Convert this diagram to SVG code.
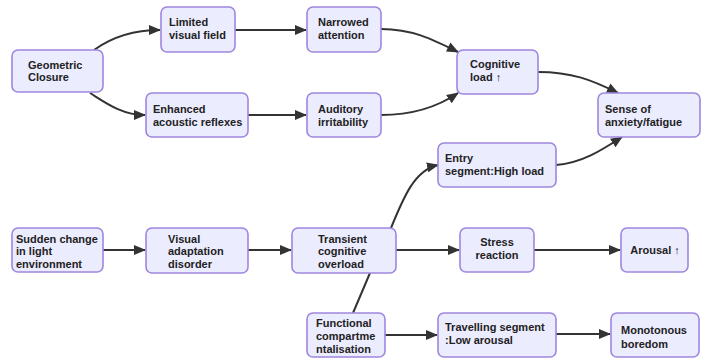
<svg xmlns="http://www.w3.org/2000/svg" width="703" height="360" viewBox="0 0 703 360">
<style>
.n rect{fill:#ECECFF;stroke:#9f86e0;stroke-width:1.6}
.n text{font-family:"Liberation Sans",Arial,sans-serif;font-size:11px;font-weight:bold;fill:#222}
.c path{fill:none;stroke:#333;stroke-width:2}
</style>
<defs>
<marker id="ah" markerUnits="userSpaceOnUse" markerWidth="12" markerHeight="12" viewBox="0 0 12 12" refX="11" refY="6" orient="auto">
<path d="M0,1 L12,6 L0,11 Z" fill="#333"/>
</marker>
</defs>
<rect width="703" height="360" fill="#fff"/>
<g class="c">
<path d="M94,50 C112,37 132,30 160,30" marker-end="url(#ah)"/>
<path d="M90,93 C106,103 122,115 145,115" marker-end="url(#ah)"/>
<path d="M235,30 L306,30" marker-end="url(#ah)"/>
<path d="M248,115 L306,115" marker-end="url(#ah)"/>
<path d="M381,29 C412,29 432,39 458,52" marker-end="url(#ah)"/>
<path d="M381,115 C412,115 436,108 458,93" marker-end="url(#ah)"/>
<path d="M538,72 C572,72 592,80 618,93" marker-end="url(#ah)"/>
<path d="M556,165 C582,163 602,150 622,137" marker-end="url(#ah)"/>
<path d="M391,228 C404,196 415,170 438,165" marker-end="url(#ah)"/>
<path d="M103,250 L145,250" marker-end="url(#ah)"/>
<path d="M248,250 L291,250" marker-end="url(#ah)"/>
<path d="M396,250 L459,250" marker-end="url(#ah)"/>
<path d="M534,250 L620,250" marker-end="url(#ah)"/>
<path d="M353,313 L370,273"/>
<path d="M385,335 L437,335" marker-end="url(#ah)"/>
<path d="M556,334 L610,334" marker-end="url(#ah)"/>
</g>
<g id="geometric" class="n"><rect x="12" y="50" width="91" height="42" rx="6"/><text x="28" y="68.5">Geometric</text><text x="28" y="81">Closure</text></g>
<g id="limited" class="n"><rect x="161" y="7" width="74" height="45" rx="6"/><text x="169" y="26">Limited</text><text x="169" y="38.5">visual field</text></g>
<g id="enhanced" class="n"><rect x="146" y="93" width="102" height="44" rx="6"/><text x="153" y="113">Enhanced</text><text x="153" y="125.5">acoustic reflexes</text></g>
<g id="narrowed" class="n"><rect x="307" y="7" width="74" height="45" rx="6"/><text x="318" y="26">Narrowed</text><text x="318" y="38.5">attention</text></g>
<g id="auditory" class="n"><rect x="307" y="93" width="74" height="44" rx="6"/><text x="318" y="113">Auditory</text><text x="318" y="125.5">irritability</text></g>
<g id="cognitive" class="n"><rect x="457" y="50" width="81" height="44" rx="6"/><text x="470" y="68">Cognitive</text><text x="470" y="81">load ↑</text></g>
<g id="sense" class="n"><rect x="598" y="93" width="102" height="44" rx="6"/><text x="605" y="112.5">Sense of</text><text x="605" y="125.5">anxiety/fatigue</text></g>
<g id="entry" class="n"><rect x="438" y="143" width="118" height="44" rx="6"/><text x="445" y="162">Entry</text><text x="445" y="175">segment:High load</text></g>
<g id="sudden" class="n"><rect x="12" y="228" width="91" height="44" rx="6"/><text x="16" y="243">Sudden change</text><text x="16" y="255">in light</text><text x="16" y="267.5">environment</text></g>
<g id="visual" class="n"><rect x="146" y="228" width="102" height="45" rx="6"/><text x="168" y="243">Visual</text><text x="168" y="255">adaptation</text><text x="168" y="267.5">disorder</text></g>
<g id="transient" class="n"><rect x="292" y="228" width="104" height="45" rx="6"/><text x="318" y="242.5">Transient</text><text x="318" y="255">cognitive</text><text x="318" y="267.5">overload</text></g>
<g id="stress" class="n"><rect x="460" y="228" width="74" height="44" rx="6"/><text x="497" y="246" text-anchor="middle">Stress</text><text x="497" y="259" text-anchor="middle">reaction</text></g>
<g id="arousal" class="n"><rect x="621" y="228" width="67" height="44" rx="6"/><text x="655" y="254" text-anchor="middle">Arousal ↑</text></g>
<g id="functional" class="n"><rect x="307" y="313" width="78" height="44" rx="6"/><text x="316" y="326.5">Functional</text><text x="316" y="339.5">compartme</text><text x="316" y="352.5">ntalisation</text></g>
<g id="travelling" class="n"><rect x="438" y="313" width="118" height="44" rx="6"/><text x="445" y="331">Travelling segment</text><text x="445" y="344">:Low arousal</text></g>
<g id="monotonous" class="n"><rect x="611" y="313" width="88" height="44" rx="6"/><text x="621" y="334">Monotonous</text><text x="621" y="347.5">boredom</text></g>
</svg>
